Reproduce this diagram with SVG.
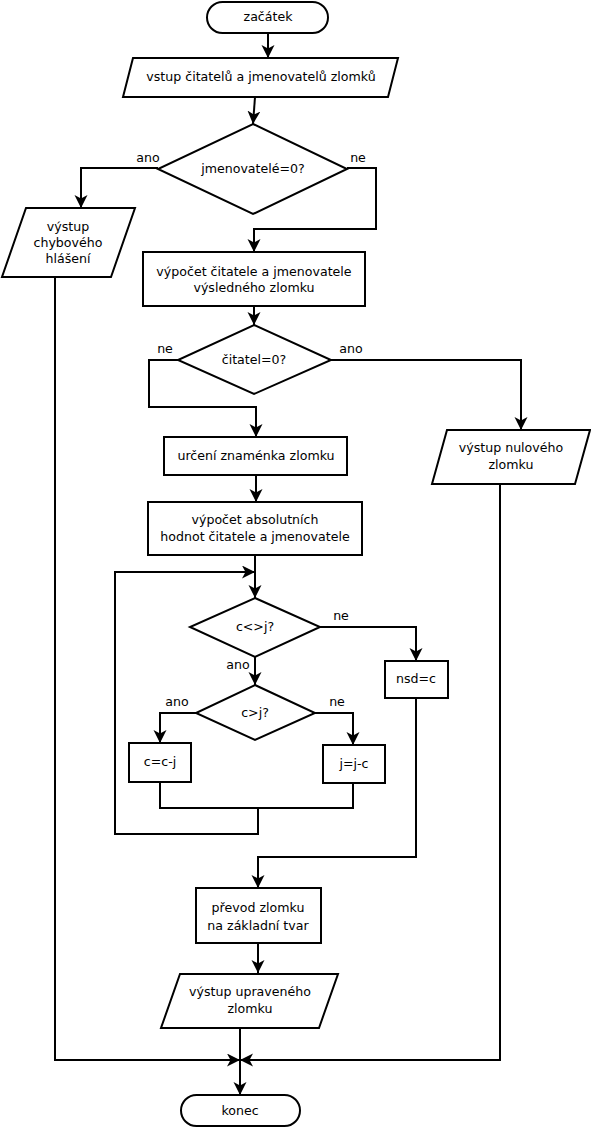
<svg xmlns="http://www.w3.org/2000/svg" width="591" height="1127" viewBox="0 0 591 1127">
<style>
.n{fill:#fff;stroke:#000;stroke-width:2}
.c{fill:none;stroke:#000;stroke-width:2}
text{font-family:"DejaVu Sans",sans-serif;font-size:12.6px;fill:#000;text-anchor:middle}
</style>
<defs>
<marker id="a" markerUnits="userSpaceOnUse" markerWidth="16" markerHeight="14" refX="13" refY="6.5" orient="auto">
<path d="M0,0 L13,6.5 L0,13 L3.5,6.5 z" fill="#000"/>
</marker>
</defs>
<rect width="591" height="1127" fill="#fff"/>
<g id="connectors">
<path class="c" marker-end="url(#a)" d="M268,33 V58"/>
<path class="c" marker-end="url(#a)" d="M255,97 L253,124"/>
<path class="c" marker-end="url(#a)" d="M158,168 H81 V208"/>
<path class="c" marker-end="url(#a)" d="M347,168 H376 V229 H254 V252"/>
<path class="c" marker-end="url(#a)" d="M254,306 V325"/>
<path class="c" marker-end="url(#a)" d="M178,360 H149 V407 H256 V437"/>
<path class="c" marker-end="url(#a)" d="M331,360 H521 V430"/>
<path class="c" marker-end="url(#a)" d="M256,475 V502"/>
<path class="c" marker-end="url(#a)" d="M255,555 V598"/>
<path class="c" marker-end="url(#a)" d="M258,808 V834 H115 V572 H255"/>
<path class="c" marker-end="url(#a)" d="M320,627 H416 V661"/>
<path class="c" marker-end="url(#a)" d="M255,657 V685"/>
<path class="c" marker-end="url(#a)" d="M196,713 H160 V743"/>
<path class="c" marker-end="url(#a)" d="M315,713 H353 V745"/>
<path class="c" d="M160,782 V808 H353 V783"/>
<path class="c" marker-end="url(#a)" d="M416,698 V857 H258 V888"/>
<path class="c" marker-end="url(#a)" d="M258,943 V973"/>
<path class="c" marker-end="url(#a)" d="M240,1028 V1095"/>
<path class="c" marker-end="url(#a)" d="M55,277 V1060 H240"/>
<path class="c" marker-end="url(#a)" d="M500,484 V1060 H240"/>
</g>
<g id="start"><rect class="n" x="207" y="2" width="121" height="31" rx="15.5"/><text x="268" y="21">začátek</text></g>
<g id="input"><path class="n" d="M133,58 H398 L388,97 H123 Z"/><text x="261" y="81">vstup čitatelů a jmenovatelů zlomků</text></g>
<g id="dec1"><path class="n" d="M253,124 L347,169 L253,214 L158,169 Z"/><text x="253" y="173">jmenovatelé=0?</text></g>
<text x="148" y="162">ano</text>
<text x="358" y="162">ne</text>
<g id="err"><path class="n" d="M26,208 H135 L111,277 H2 Z"/><text x="68" y="231">výstup</text><text x="68" y="247">chybového</text><text x="68" y="263">hlášení</text></g>
<g id="calc"><rect class="n" x="143" y="252" width="222" height="54"/><text x="254" y="276">výpočet čitatele a jmenovatele</text><text x="254" y="292">výsledného zlomku</text></g>
<g id="dec2"><path class="n" d="M254,325 L331,360 L254,394 L178,360 Z"/><text x="254" y="364">čitatel=0?</text></g>
<text x="165" y="353">ne</text>
<text x="351" y="353">ano</text>
<g id="sign"><rect class="n" x="164" y="437" width="183" height="38"/><text x="256" y="460">určení znaménka zlomku</text></g>
<g id="zero"><path class="n" d="M447,430 H590 L575,484 H432 Z"/><text x="511" y="452">výstup nulového</text><text x="511" y="469">zlomku</text></g>
<g id="abs"><rect class="n" x="148" y="502" width="214" height="53"/><text x="255" y="524">výpočet absolutních</text><text x="255" y="541">hodnot čitatele a jmenovatele</text></g>
<g id="dec3"><path class="n" d="M255,598 L320,627 L255,657 L190,627 Z"/><text x="255" y="631">c&lt;&gt;j?</text></g>
<text x="341" y="620">ne</text>
<text x="238" y="669">ano</text>
<g id="nsd"><rect class="n" x="385" y="661" width="63" height="37"/><text x="416" y="683">nsd=c</text></g>
<g id="dec4"><path class="n" d="M255,685 L315,713 L255,740 L196,713 Z"/><text x="255" y="717">c&gt;j?</text></g>
<text x="177" y="706">ano</text>
<text x="337" y="706">ne</text>
<g id="cmj"><rect class="n" x="129" y="743" width="62" height="39"/><text x="160" y="766">c=c-j</text></g>
<g id="jmc"><rect class="n" x="323" y="745" width="62" height="38"/><text x="354" y="768">j=j-c</text></g>
<g id="reduce"><rect class="n" x="196" y="888" width="125" height="55"/><text x="258" y="912">převod zlomku</text><text x="258" y="930">na základní tvar</text></g>
<g id="out"><path class="n" d="M180,974 H338 L319,1028 H161 Z"/><text x="250" y="996">výstup upraveného</text><text x="250" y="1013">zlomku</text></g>
<g id="end"><rect class="n" x="181" y="1095" width="119" height="31" rx="15.5"/><text x="240" y="1115">konec</text></g>
</svg>
